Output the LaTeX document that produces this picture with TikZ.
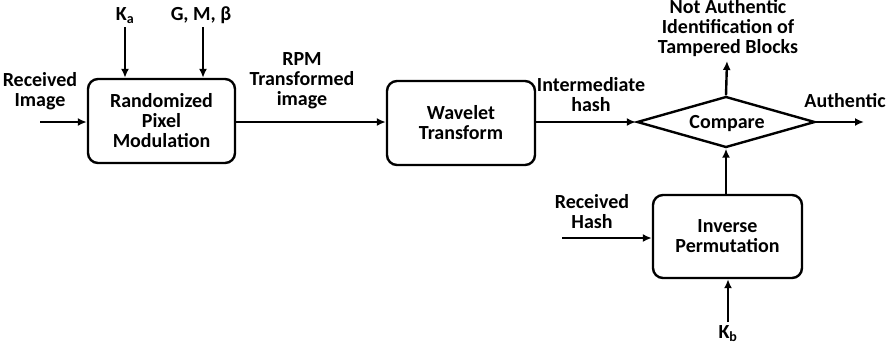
\documentclass[tikz,border=0pt]{standalone}
\usepackage{fontspec}
\setmainfont{Carlito}
\usetikzlibrary{shapes.geometric,arrows.meta}
\begin{document}
\begin{tikzpicture}[x=1pt,y=-1pt,
  font=\bfseries\fontsize{20}{20}\selectfont,
  blk/.style={draw,line width=2.4pt,rounded corners=10pt,align=center},
  lbl/.style={align=center,inner sep=0pt},
  arr/.style={line width=2.4pt,-{Latex[length=9pt,width=8pt]}}]
\useasboundingbox (0,0) rectangle (896,349);
\node[blk,minimum width=147pt,minimum height=84pt] (rpm) at (161.5,121) {Randomized\\Pixel\\Modulation};
\node[blk,minimum width=148pt,minimum height=84pt] (wt) at (461,123) {Wavelet\\Transform};
\node[draw,line width=2.4pt,diamond,aspect=3.5,minimum width=178pt,minimum height=51pt,inner sep=0pt] (cmp) at (726,122) {};
\node[lbl] (cmpt) at (727,124) {Compare};
\node[blk,minimum width=149pt,minimum height=83pt] (ip) at (727.5,236.5) {Inverse\\Permutation};
% labels
\node[lbl] (ka) at (125,16) {K\textsubscript{a}};
\node[lbl] (gmb) at (201,15) {G, M, β};
\node[lbl] (ri) at (40,91) {Received\\Image};
\node[lbl] (rpmt) at (302,81) {RPM\\Transformed\\image};
\node[lbl] (ih) at (591,95) {Intermediate\\hash};
\node[lbl] (na) at (728,28) {Not Authentic\\Identification of\\Tampered Blocks};
\node[lbl] (au) at (845,101) {Authentic};
\node[lbl] (rh) at (592,212) {Received\\Hash};
\node[lbl] (kb) at (728,334) {K\textsubscript{b}};
% coordinates
\coordinate (kas) at (125,27);
\coordinate (gms) at (203,27);
\coordinate (ris) at (40,122);
\coordinate (nae) at (727,61);
\coordinate (aue) at (864,122);
\coordinate (rhs) at (562,238);
\coordinate (kbs) at (728,322);
% connectors
\draw[arr] (kas) -- (kas |- rpm.north);
\draw[arr] (gms) -- (gms |- rpm.north);
\draw[arr] (ris) -- (rpm.west |- ris);
\draw[arr] (rpm.east |- ris) -- (wt.west |- ris);
\draw[arr] (wt.east |- ris) -- (cmp.west);
\draw[arr] (cmp.north) -- (nae);
\draw[arr] (cmp.east) -- (aue);
\draw[arr] (ip.north -| cmp.south) -- (cmp.south);
\draw[arr] (rhs) -- (ip.west |- rhs);
\draw[arr] (kbs) -- (kbs |- ip.south);
\end{tikzpicture}
\end{document}
